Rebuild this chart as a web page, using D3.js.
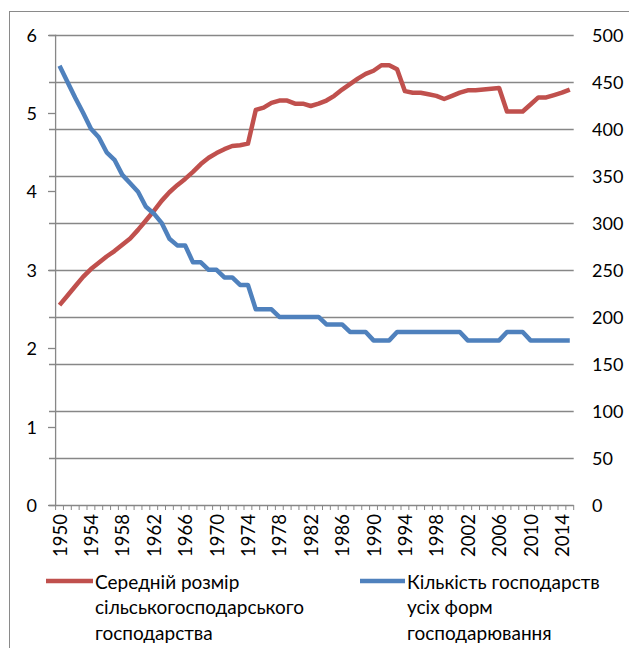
<!DOCTYPE html>
<html>
<head>
<meta charset="utf-8">
<script src="https://cdn.jsdelivr.net/npm/d3@7/dist/d3.min.js"></script>
<style>
  html, body { margin: 0; padding: 0; background: #fff; }
  svg { display: block; }
  text { font-family: Lato, "Noto Sans", sans-serif; fill: #000; }
</style>
</head>
<body>
<svg id="chart" width="629" height="648"></svg>
<script>
// Years on the category axis
const years = [1950,1951,1952,1953,1954,1955,1956,1957,1958,1959,
  1960,1961,1962,1963,1964,1965,1966,1967,1968,1969,
  1970,1971,1972,1973,1974,1975,1976,1977,1978,1979,
  1980,1981,1982,1983,1984,1985,1986,1987,1988,1989,
  1990,1991,1992,1993,1994,1995,1996,1997,1998,1999,
  2000,2001,2002,2003,2004,2005,2006,2007,2008,2009,
  2010,2011,2012,2013,2014,2015];

// Average farm size (left axis)
const avgSize = [2.55,2.67,2.79,2.91,3.01,3.09,3.17,3.24,3.32,3.40,
  3.51,3.63,3.75,3.88,3.99,4.08,4.16,4.25,4.35,4.43,
  4.49,4.54,4.58,4.59,4.61,5.04,5.07,5.13,5.16,5.16,
  5.12,5.12,5.09,5.12,5.16,5.22,5.30,5.37,5.44,5.50,
  5.54,5.61,5.61,5.56,5.28,5.26,5.26,5.24,5.22,5.18,
  5.22,5.26,5.29,5.29,5.30,5.31,5.32,5.02,5.02,5.02,
  5.11,5.20,5.20,5.23,5.26,5.30];

// Number of farms of all forms of management (right axis)
const farmCount = [467,450,433,417,400,391,375,367,351,342,
  333,317,310,300,283,276,276,258,258,250,
  250,242,242,234,234,208,208,208,200,200,
  200,200,200,200,192,192,192,184,184,184,
  175,175,175,184,184,184,184,184,184,184,
  184,184,175,175,175,175,175,184,184,184,
  175,175,175,175,175,175];

const leftTicks = [0,1,2,3,4,5,6];
const rightTicks = [0,50,100,150,200,250,300,350,400,450,500];
const yearLabels = [1950,1954,1958,1962,1966,1970,1974,1978,1982,1986,1990,1994,1998,2002,2006,2010,2014];

const legendItems = [
  { lines: ["Середній розмір", "сільськогосподарського", "господарства"], color: "#C0504D" },
  { lines: ["Кількість господарств", "усіх форм", "господарювання"], color: "#4F81BD" }
];

const svg = d3.select("#chart");
const plot = { left: 55.6, right: 573.7, top: 34.7, bottom: 505 };

// outer chart frame
svg.append("rect")
  .attr("x", 9.5).attr("y", 11.5).attr("width", 640).attr("height", 660)
  .attr("fill", "none").attr("stroke", "#8a8a8a").attr("stroke-width", 1);

const x = d3.scaleBand().domain(years).range([plot.left, plot.right]).padding(0);
const xc = d => x(d) + x.bandwidth() / 2;
const yL = d3.scaleLinear().domain([0, 6]).range([plot.bottom, plot.top]);
const yR = d3.scaleLinear().domain([0, 500]).range([plot.bottom, plot.top]);

const gridColor = "#878787";

// horizontal gridlines on the right-axis steps
svg.append("g").selectAll("line").data(rightTicks.filter(v => v > 0)).join("line")
  .attr("x1", 49).attr("x2", plot.right)
  .attr("y1", d => Math.round(yR(d)) + 0.5).attr("y2", d => Math.round(yR(d)) + 0.5)
  .attr("stroke", gridColor).attr("stroke-width", 1.3);

// left axis line and ticks
svg.append("line")
  .attr("x1", plot.left).attr("x2", plot.left)
  .attr("y1", plot.top).attr("y2", plot.bottom)
  .attr("stroke", gridColor).attr("stroke-width", 1.3);
svg.append("g").selectAll("line").data(leftTicks).join("line")
  .attr("x1", 48).attr("x2", plot.left)
  .attr("y1", d => Math.round(yL(d)) + 0.5).attr("y2", d => Math.round(yL(d)) + 0.5)
  .attr("stroke", gridColor).attr("stroke-width", 1.3);

// category axis with a tick between every year
svg.append("line")
  .attr("x1", 49).attr("x2", plot.right)
  .attr("y1", plot.bottom + 0.5).attr("y2", plot.bottom + 0.5)
  .attr("stroke", gridColor).attr("stroke-width", 1.3);
const bounds = years.map(d => x(d)).concat([plot.right]);
svg.append("g").selectAll("line").data(bounds).join("line")
  .attr("x1", d => d).attr("x2", d => d)
  .attr("y1", plot.bottom).attr("y2", plot.bottom + 5)
  .attr("stroke", gridColor).attr("stroke-width", 1);

// tick labels
const fs = 18;
svg.append("g").selectAll("text").data(leftTicks).join("text")
  .attr("x", 37).attr("y", d => yL(d))
  .attr("text-anchor", "end").attr("dominant-baseline", "central")
  .style("font-size", fs + "px").text(d => d);
svg.append("g").selectAll("text").data(rightTicks).join("text")
  .attr("x", 592).attr("y", d => yR(d))
  .attr("text-anchor", "start").attr("dominant-baseline", "central")
  .style("font-size", fs + "px").text(d => d);
svg.append("g").selectAll("text").data(yearLabels).join("text")
  .attr("transform", d => `translate(${xc(d)},514) rotate(-90)`)
  .attr("text-anchor", "end").attr("dominant-baseline", "central")
  .style("font-size", "18.5px").text(d => d);

// series lines
const lineL = d3.line().x((d, i) => xc(years[i])).y(d => yL(d));
const lineR = d3.line().x((d, i) => xc(years[i])).y(d => yR(d));
svg.append("path").datum(avgSize).attr("d", lineL)
  .attr("fill", "none").attr("stroke", "#C0504D").attr("stroke-width", 4.5)
  .attr("stroke-linejoin", "round");
svg.append("path").datum(farmCount).attr("d", lineR)
  .attr("fill", "none").attr("stroke", "#4F81BD").attr("stroke-width", 4.5)
  .attr("stroke-linejoin", "round");

// legend
const legendPos = [{ x1: 46, x2: 93 }, { x1: 360, x2: 405 }];
legendItems.forEach((item, k) => {
  const g = svg.append("g");
  const p = legendPos[k];
  g.append("line").attr("x1", p.x1).attr("x2", p.x2).attr("y1", 581).attr("y2", 581)
    .attr("stroke", item.color).attr("stroke-width", 4.5);
  g.selectAll("text").data(item.lines).join("text")
    .attr("x", p.x2 + 2).attr("y", (d, i) => 581 + i * 25.5)
    .attr("dominant-baseline", "central")
    .style("font-size", "19px").text(d => d);
});
</script>
</body>
</html>
